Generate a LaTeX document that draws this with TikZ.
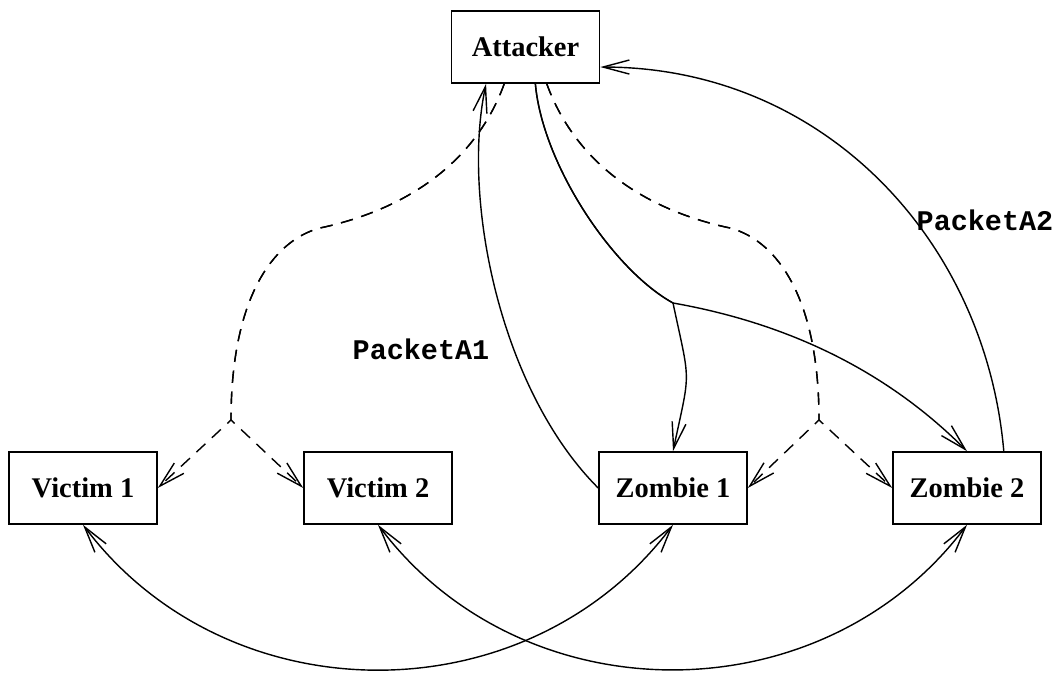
\documentclass[tikz,border=0pt]{standalone}
\usepackage{fontspec}
\setmainfont{Liberation Serif}
\setmonofont{Liberation Mono}
\usetikzlibrary{arrows.meta}
\tikzset{
  host/.style={draw,line width=0.9pt,minimum width=2.96cm,minimum height=1.44cm,inner sep=0pt,font=\fontsize{16.2}{19}\selectfont\bfseries},
  packet/.style={font=\fontsize{16.2}{19}\selectfont\ttfamily\bfseries},
  spoof/.style={dash pattern=on 7pt off 5pt},
}

\begin{document}
\begin{tikzpicture}[>={Straight Barb[length=15pt,width=8pt]},line width=0.8pt]
        \useasboundingbox (0,0) rectangle (21.24,13.44);
        % hosts
        \node[host] (A) at (10.51,12.50) {Attacker};
        \node[host] (V1) at (1.66,3.68) {Victim 1};
        \node[host] (V2) at (7.56,3.68) {Victim 2};
        \node[host] (Z1) at (13.46,3.68) {Zombie 1};
        \node[host] (Z2) at (19.34,3.68) {Zombie 2};
        % bends and splits of the splines
        \coordinate (lbend) at (6.40,8.88);
        \coordinate (lsplit) at (4.62,5.04);
        \coordinate (rbend) at (14.60,8.88);
        \coordinate (rsplit) at (16.38,5.04);
        \coordinate (fork) at (13.46,7.38);
        % dashed: attacker to victims and zombies
        \draw[spoof,->] (A.240) .. controls +(250:1.8) and +(12:1.6) .. (lbend) .. controls +(195:1) and +(90:2.4) .. (lsplit) -- (V1.east);
        \draw[spoof,->] (A.240) .. controls +(250:1.8) and +(12:1.6) .. (lbend) .. controls +(195:1) and +(90:2.4) .. (lsplit) -- (V2.west);
        \draw[spoof,->] (A.300) .. controls +(290:1.8) and +(168:1.6) .. (rbend) .. controls +(-15:1) and +(90:2.4) .. (rsplit) -- (Z1.east);
        \draw[spoof,->] (A.300) .. controls +(290:1.8) and +(168:1.6) .. (rbend) .. controls +(-15:1) and +(90:2.4) .. (rsplit) -- (Z2.west);
        % solid: attacker to zombies
        \draw[->] (A.285) .. controls +(-85:1.6) and +(151:1.4) .. (fork) .. controls +(-78:1.7) and +(78:1.7) .. (Z1.north);
        \draw[->] (A.285) .. controls +(-85:1.6) and +(151:1.4) .. (fork) .. controls +(-10:3.0) and +(135:1.6) .. (Z2.north);
        % packets back to the attacker
        \draw[->] (Z1.west) .. controls +(135:2.76) and +(-102:2.38) .. (A.223);
        \draw[->] (Z2.45) .. controls +(95:4.26) and +(0:4.45) .. (A.345);
        \node[packet] (pa1) at (8.42,6.46) {PacketA1};
        \node[packet] (pa2) at (19.70,9.04) {PacketA2};
        % victims and zombies
        \draw[<->] (V1.south) to[out=-53,in=-127,looseness=1.05] (Z1.south);
        \draw[<->] (V2.south) to[out=-53,in=-127,looseness=1.05] (Z2.south);
\end{tikzpicture}
\end{document}
